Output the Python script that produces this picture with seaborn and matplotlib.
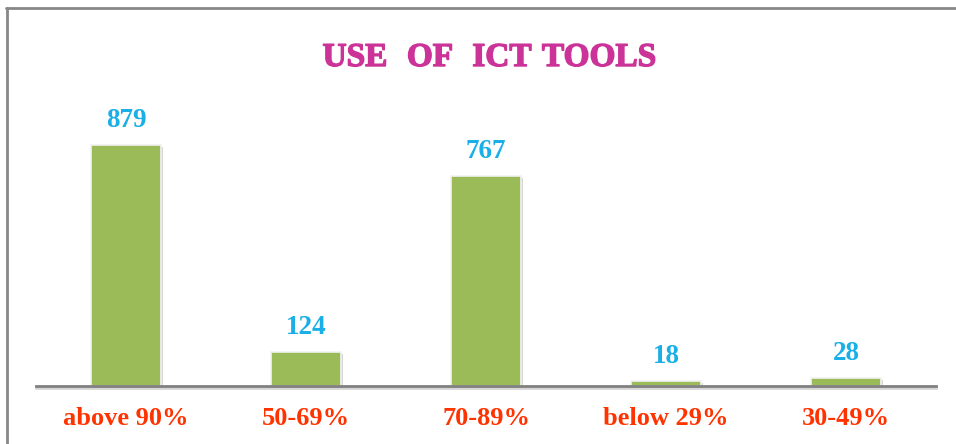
import matplotlib
matplotlib.use("Agg")
import matplotlib.pyplot as plt
import matplotlib.patheffects as pe
from matplotlib.lines import Line2D
import seaborn as sns
import pandas as pd

categories = ["above 90%", "50-69%", "70-89%", "below 29%", "30-49%"]
counts = [879, 124, 767, 18, 28]

title_words = ["USE", "OF", "ICT", "TOOLS"]
bar_color = "#9BBB59"
title_color = "#CC3399"
value_color = "#1AAFE6"
tick_color = "#FF3300"

sns.set_theme(style="white")
plt.rcParams["font.family"] = ["Liberation Serif", "DejaVu Serif"]

W, H = 956, 444
fig = plt.figure(figsize=(W / 100, H / 100), dpi=100)
ax = fig.add_axes([36 / W, 58 / H, 900 / W, 300 / H])

df = pd.DataFrame({"range": categories, "count": counts})
sns.barplot(data=df, x="range", y="count", color=bar_color, saturation=1,
            width=0.39, ax=ax, edgecolor="#F2F2F2", linewidth=1.2)

shadow = [pe.SimplePatchShadow(offset=(1.5, -1.5), shadow_rgbFace="#888888", alpha=0.35),
          pe.Normal()]
for patch in ax.patches:
    patch.set_path_effects(shadow)

ax.set_xlim(-0.5, 4.5)
ax.set_ylim(0, 879 * 300 / 241)

for i, v in enumerate(counts):
    ax.annotate(str(v), xy=(i, v), xytext=(0, 13), textcoords="offset points",
                ha="center", va="baseline", fontsize=19.5, fontweight="bold",
                color=value_color)

for side in ["top", "right", "left"]:
    ax.spines[side].set_visible(False)
ax.spines["bottom"].set_color("#808080")
ax.spines["bottom"].set_linewidth(2)
ax.spines["bottom"].set_path_effects([
    pe.SimpleLineShadow(offset=(0, -1.5), shadow_color="#999999", alpha=0.4),
    pe.Normal()])

ax.set_yticks([])
ax.set_xlabel("")
ax.set_ylabel("")
ax.tick_params(axis="x", length=0, pad=15)
for lbl in ax.get_xticklabels():
    lbl.set_fontsize(19)
    lbl.set_fontweight("bold")
    lbl.set_color(tick_color)

# title, word by word with wide gaps between words
word_centers = [355, 430, 502, 599]
for word, cx in zip(title_words, word_centers):
    fig.text(cx / W, 1 - 57.5 / H, word, ha="center", va="center",
             fontsize=24, fontweight="bold", color=title_color,
             path_effects=[pe.withStroke(linewidth=1.0, foreground=title_color)])

# chart frame on the left and top
fig.add_artist(Line2D([7 / W, 7 / W], [0, 1 - 8 / H], transform=fig.transFigure,
                      color="#888888", linewidth=2))
fig.add_artist(Line2D([6 / W, 1], [1 - 8 / H, 1 - 8 / H], transform=fig.transFigure,
                      color="#888888", linewidth=2))

fig.savefig("out.png", dpi=100)
